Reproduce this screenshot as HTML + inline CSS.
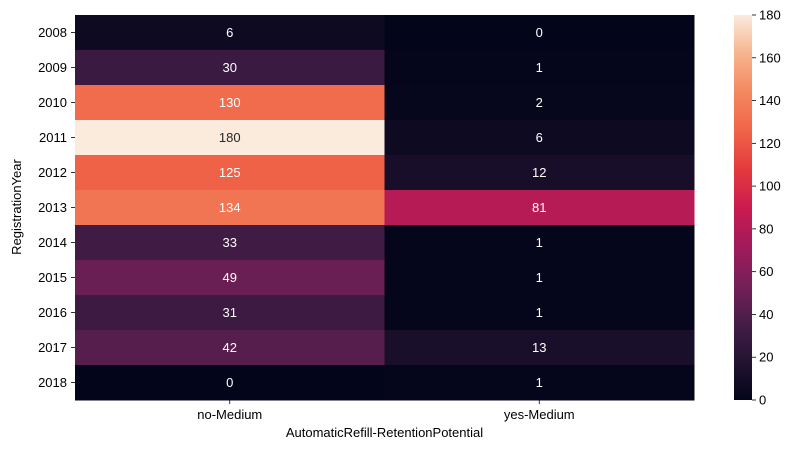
<!DOCTYPE html>
<html><head><meta charset="utf-8"><style>
body{margin:0;background:#fff;font-family:"Liberation Sans","DejaVu Sans",sans-serif;}
svg text{font-family:"Liberation Sans","DejaVu Sans",sans-serif;}
</style></head><body>
<svg id="chart" width="798" height="453" xmlns="http://www.w3.org/2000/svg">
<defs><linearGradient id="cbg" x1="0" y1="1" x2="0" y2="0"></linearGradient></defs>
<g id="cells"></g>
<g id="yaxis"></g>
<g id="xaxis"></g>
<text x="21" y="207" font-size="13" text-anchor="middle" transform="rotate(-90 21 207)">RegistrationYear</text>
<text x="384.5" y="437" font-size="13" text-anchor="middle">AutomaticRefill-RetentionPotential</text>
<g id="cbar"></g>
</svg>
<script>
const years = ["2008","2009","2010","2011","2012","2013","2014","2015","2016","2017","2018"];
const columns = ["no-Medium","yes-Medium"];
const noMedium = [6,30,130,180,125,134,33,49,31,42,0];
const yesMedium = [0,1,2,6,12,81,1,1,1,13,1];
const cbTicks = [0,20,40,60,80,100,120,140,160,180];
const vmin = 0, vmax = 180;

const NS="http://www.w3.org/2000/svg";
const L=75,R=694,T=15,B=400;
const stops=[[0,[3,5,26]],[0.1,[34,19,49]],[0.2,[70,29,72]],[0.3,[118,32,88]],[0.4,[161,26,91]],[0.5,[203,27,79]],[0.6,[228,58,62]],[0.7,[240,100,72]],[0.8,[243,136,96]],[0.9,[246,180,142]],[1,[250,235,221]]];
function cmap(t){t=Math.max(0,Math.min(1,t));for(let i=1;i<stops.length;i++){if(t<=stops[i][0]){const a=stops[i-1],b=stops[i];const f=(t-a[0])/(b[0]-a[0]);return a[1].map((v,k)=>Math.round(v+(b[1][k]-v)*f));}}return stops[stops.length-1][1];}
function lum(c){const l=c.map(v=>{v/=255;return v<=0.03928?v/12.92:Math.pow((v+0.055)/1.055,2.4);});return 0.2126*l[0]+0.7152*l[1]+0.0722*l[2];}
const cw=(R-L)/columns.length, rh=(B-T)/years.length;
const xs=i=>L+i*cw, ys=j=>T+j*rh;
function mk(tag,attrs,parent){const e=document.createElementNS(NS,tag);for(const k in attrs)e.setAttribute(k,attrs[k]);parent.appendChild(e);return e;}
const cells=document.getElementById('cells');
const series=[noMedium,yesMedium];
series.forEach((arr,ci)=>{arr.forEach((v,ri)=>{
  const c=cmap((v-vmin)/(vmax-vmin));
  const r=mk('rect',{x:xs(ci),y:ys(ri),width:cw+0.5,height:rh+0.5,fill:`rgb(${c})`},cells);
  
  
  const t=mk('text',{x:xs(ci)+cw/2,y:ys(ri)+rh/2+4.5,'font-size':13,'text-anchor':'middle',fill:lum(c)>0.408?'#262626':'#ffffff'},cells);
  t.textContent=v;
  
  
});});
const ya=document.getElementById('yaxis');
years.forEach((y,i)=>{
  mk('line',{x1:L-4,x2:L,y1:ys(i)+rh/2,y2:ys(i)+rh/2,stroke:'#000','stroke-width':0.8},ya);
  const t=mk('text',{x:L-8,y:ys(i)+rh/2+4.5,'font-size':13,'text-anchor':'end',fill:'#000'},ya);
  t.textContent=y;
  
  
});
const xa=document.getElementById('xaxis');
columns.forEach((c,i)=>{
  mk('line',{x1:xs(i)+cw/2,x2:xs(i)+cw/2,y1:B,y2:B+4,stroke:'#000','stroke-width':0.8},xa);
  const t=mk('text',{x:xs(i)+cw/2,y:B+19,'font-size':13,'text-anchor':'middle',fill:'#000'},xa);
  t.textContent=c;
  
  
});
const grad=document.getElementById('cbg');
for(let i=0;i<=20;i++){mk('stop',{offset:(i/20),'stop-color':`rgb(${cmap(i/20)})`},grad);}
const cb=document.getElementById('cbar');
const CBL=734,CBW=18;
const cby=v=>B-(v-vmin)/(vmax-vmin)*(B-T);
const cr=mk('rect',{x:CBL,y:T,width:CBW,height:B-T,fill:'url(#cbg)'},cb);


cbTicks.forEach(v=>{
  mk('line',{x1:CBL+CBW,x2:CBL+CBW+4,y1:cby(v),y2:cby(v),stroke:'#000','stroke-width':0.8},cb);
  const t=mk('text',{x:CBL+CBW+7,y:cby(v)+4.5,'font-size':13,fill:'#000'},cb);
  t.textContent=v;
  
  
});
</script>
</body></html>
